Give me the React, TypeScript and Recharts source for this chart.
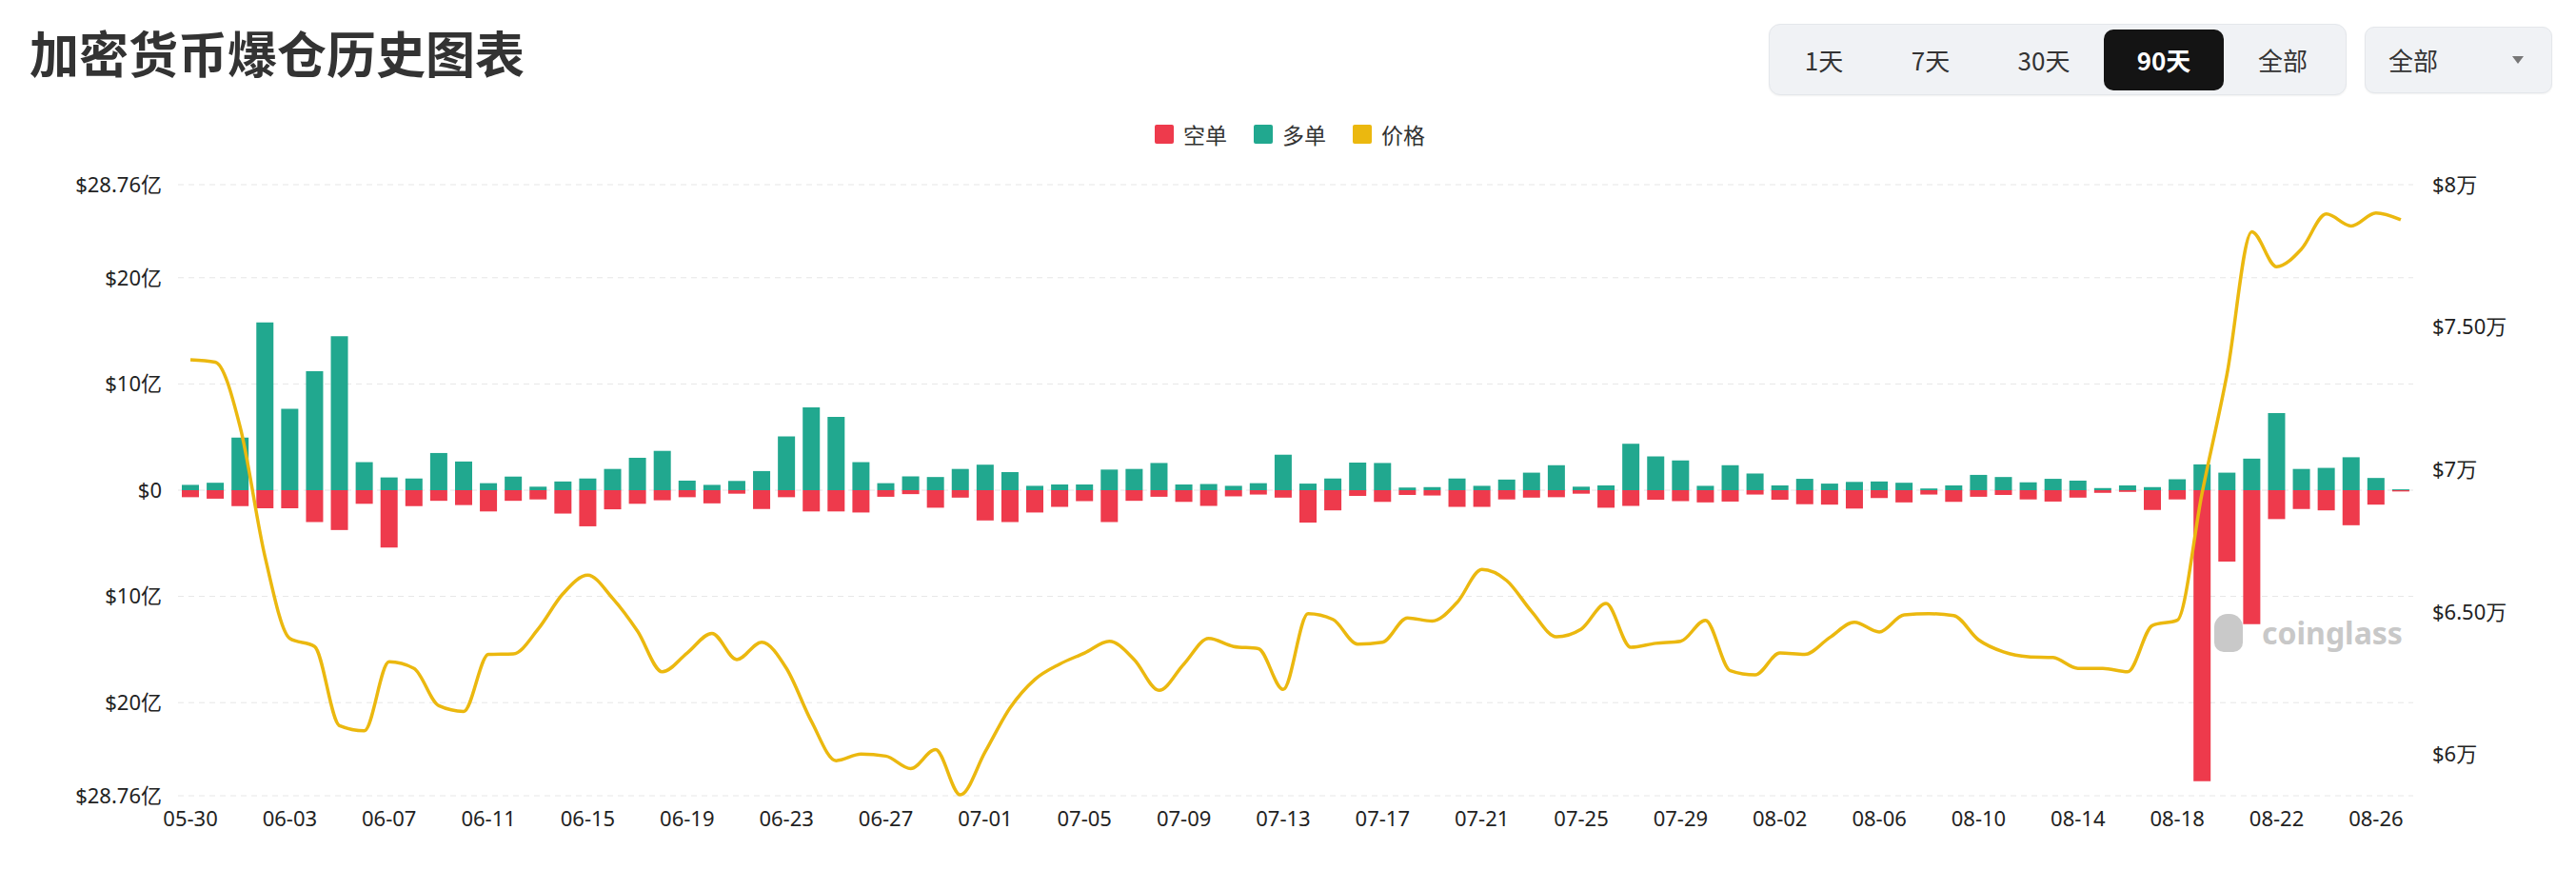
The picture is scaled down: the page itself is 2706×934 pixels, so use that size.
import {
  Bar,
  CartesianGrid,
  ComposedChart,
  Line,
  XAxis,
  YAxis,
} from "recharts";

const dates = [
  "05-30", "05-31", "06-01", "06-02", "06-03", "06-04", "06-05", "06-06", "06-07", "06-08",
  "06-09", "06-10", "06-11", "06-12", "06-13", "06-14", "06-15", "06-16", "06-17", "06-18",
  "06-19", "06-20", "06-21", "06-22", "06-23", "06-24", "06-25", "06-26", "06-27", "06-28",
  "06-29", "06-30", "07-01", "07-02", "07-03", "07-04", "07-05", "07-06", "07-07", "07-08",
  "07-09", "07-10", "07-11", "07-12", "07-13", "07-14", "07-15", "07-16", "07-17", "07-18",
  "07-19", "07-20", "07-21", "07-22", "07-23", "07-24", "07-25", "07-26", "07-27", "07-28",
  "07-29", "07-30", "07-31", "08-01", "08-02", "08-03", "08-04", "08-05", "08-06", "08-07",
  "08-08", "08-09", "08-10", "08-11", "08-12", "08-13", "08-14", "08-15", "08-16", "08-17",
  "08-18", "08-19", "08-20", "08-21", "08-22", "08-23", "08-24", "08-25", "08-26", "08-27",
];

// 多单 liquidations, in 亿 USD
const longLiq = [
  0.5, 0.7, 4.95, 15.8, 7.67, 11.2, 14.5, 2.64, 1.2, 1.1,
  3.5, 2.7, 0.66, 1.28, 0.33, 0.82, 1.1, 2.0, 3.05, 3.7,
  0.9, 0.5, 0.87, 1.8, 5.07, 7.8, 6.9, 2.64, 0.66, 1.3,
  1.24, 2.0, 2.4, 1.7, 0.41, 0.54, 0.54, 1.94, 2.0, 2.56,
  0.54, 0.58, 0.41, 0.66, 3.34, 0.62, 1.1, 2.6, 2.56, 0.25,
  0.29, 1.1, 0.41, 1.0, 1.65, 2.35, 0.33, 0.45, 4.37, 3.18,
  2.8, 0.41, 2.35, 1.57, 0.45, 1.07, 0.62, 0.78, 0.82, 0.7,
  0.16, 0.45, 1.44, 1.24, 0.74, 1.07, 0.9, 0.2, 0.45, 0.29,
  1.03, 2.43, 1.65, 2.97, 7.26, 2.0, 2.1, 3.1, 1.15, 0.08,
];

// 空单 liquidations, in 亿 USD (drawn below zero)
const shortLiq = [
  0.66, 0.8, 1.5, 1.7, 1.7, 3.0, 3.75, 1.28, 5.4, 1.5,
  1.0, 1.4, 2.0, 1.0, 0.87, 2.2, 3.4, 1.8, 1.28, 0.95,
  0.66, 1.24, 0.33, 1.77, 0.66, 2.0, 2.0, 2.1, 0.62, 0.37,
  1.65, 0.7, 2.85, 3.0, 2.1, 1.57, 1.03, 3.0, 1.0, 0.62,
  1.1, 1.48, 0.58, 0.41, 0.7, 3.05, 1.9, 0.54, 1.1, 0.45,
  0.5, 1.57, 1.57, 0.87, 0.7, 0.66, 0.33, 1.65, 1.48, 0.9,
  1.03, 1.15, 1.07, 0.41, 0.9, 1.32, 1.36, 1.73, 0.74, 1.15,
  0.41, 1.1, 0.62, 0.45, 0.87, 1.07, 0.7, 0.25, 0.16, 1.86,
  0.87, 27.4, 6.72, 12.6, 2.72, 1.77, 1.9, 3.3, 1.36, 0.12,
];

// 价格, USD
const price = [
  73850, 73770, 71500, 66950, 64070, 63790, 61010, 60830, 63250, 63020,
  61710, 61510, 63510, 63530, 64400, 65640, 66290, 65480, 64330, 62900,
  63560, 64250, 63330, 63940, 63020, 61170, 59780, 60010, 59940, 59500,
  60170, 58580, 60090, 61630, 62630, 63170, 63560, 63970, 63330, 62250,
  63170, 64070, 63790, 63710, 62280, 64940, 64740, 63870, 63940, 64790,
  64680, 65330, 66490, 66100, 65020, 64130, 64400, 65300, 63760, 63900,
  63970, 64710, 62940, 62790, 63560, 63510, 64100, 64640, 64300, 64900,
  64940, 64870, 64020, 63600, 63430, 63400, 63020, 63020, 62900, 64530,
  64710, 69180, 73340, 78350, 77120, 77740, 78970, 78550, 79010, 78770,
];

const leftTicks = [-28.76, -20, -10, 0, 10, 20, 28.76];
const rightTicks = [60000, 65000, 70000, 75000, 80000];
const ranges = ["1天", "7天", "30天", "90天", "全部"];

const data = dates.map((d, i) => ({
  date: d,
  long: longLiq[i],
  short: -shortLiq[i],
  price: price[i],
}));

const RED = "#EE3A4C";
const GREEN = "#21A88F";
const YELLOW = "#EBB80F";
const FONT = "'Noto Sans', 'Noto Sans CJK SC', sans-serif";
const CJK = "'Noto Sans CJK SC', 'Noto Sans', sans-serif";

const fmtLeft = (v: number) => (v === 0 ? "$0" : `$${Math.abs(v)}亿`);
const fmtRight = (v: number) => {
  const w = v / 10000;
  return `$${Number.isInteger(w) ? w : w.toFixed(2)}万`;
};

const legendItems = [
  { label: "空单", color: RED, x: 1213 },
  { label: "多单", color: GREEN, x: 1317 },
  { label: "价格", color: YELLOW, x: 1421 },
];
const rangeCenters = [1916, 2028, 2147, 2273, 2398];

export default function App() {
  const tick = { fill: "#222", fontSize: 22, fontFamily: FONT };
  return (
    <div
      style={{
        position: "fixed",
        left: 0,
        top: 0,
        width: 2706,
        height: 934,
        background: "#fff",
        fontFamily: CJK,
        overflow: "hidden",
      }}
    >
      <div
        style={{
          position: "absolute",
          left: 31,
          top: 29,
          fontSize: 52,
          lineHeight: "52px",
          fontWeight: 700,
          color: "#333",
          whiteSpace: "nowrap",
        }}
      >
        加密货币爆仓历史图表
      </div>

      {/* range switcher */}
      <div
        style={{
          position: "absolute",
          left: 1858,
          top: 25,
          width: 607,
          height: 75,
          boxSizing: "border-box",
          background: "#f0f2f5",
          border: "1px solid #e4e7eb",
          borderRadius: 12,
          boxShadow: "0 1px 2px rgba(0,0,0,0.06)",
        }}
      />
      <div
        style={{
          position: "absolute",
          left: 2210,
          top: 31,
          width: 126,
          height: 64,
          background: "#141414",
          borderRadius: 10,
        }}
      />
      {ranges.map((r, i) => (
        <div
          key={r}
          style={{
            position: "absolute",
            left: rangeCenters[i] - 60,
            width: 120,
            top: 31,
            height: 64,
            lineHeight: "64px",
            textAlign: "center",
            fontSize: 26,
            color: r === "90天" ? "#fff" : "#333",
            fontWeight: r === "90天" ? 700 : 400,
          }}
        >
          {r}
        </div>
      ))}

      {/* dropdown */}
      <div
        style={{
          position: "absolute",
          left: 2484,
          top: 28,
          width: 197,
          height: 70,
          boxSizing: "border-box",
          background: "#f0f2f5",
          border: "1px solid #e4e7eb",
          borderRadius: 10,
          boxShadow: "0 1px 2px rgba(0,0,0,0.06)",
        }}
      />
      <div
        style={{
          position: "absolute",
          left: 2509,
          top: 28,
          height: 70,
          lineHeight: "70px",
          fontSize: 26,
          color: "#333",
        }}
      >
        全部
      </div>
      <div
        style={{
          position: "absolute",
          left: 2639,
          top: 59,
          width: 0,
          height: 0,
          borderLeft: "6px solid transparent",
          borderRight: "6px solid transparent",
          borderTop: "8px solid #777",
        }}
      />

      {/* legend */}
      {legendItems.map((it) => (
        <div key={it.label}>
          <div
            style={{
              position: "absolute",
              left: it.x,
              top: 131,
              width: 20,
              height: 20,
              borderRadius: 2,
              background: it.color,
            }}
          />
          <div
            style={{
              position: "absolute",
              left: it.x + 30,
              top: 126,
              lineHeight: "30px",
              fontSize: 23,
              color: "#333",
            }}
          >
            {it.label}
          </div>
        </div>
      ))}

      {/* watermark */}
      <div
        style={{
          position: "absolute",
          left: 2326,
          top: 645,
          width: 30,
          height: 40,
          borderRadius: "14px 14px 10px 10px",
          background: "#c9c9c9",
        }}
      />
      <div
        style={{
          position: "absolute",
          left: 2376,
          top: 644,
          fontSize: 32,
          lineHeight: "42px",
          fontWeight: 700,
          color: "#c8c8c8",
          fontFamily: "'Noto Sans', sans-serif",
        }}
      >
        coinglass
      </div>

      <div style={{ position: "absolute", left: 0, top: 0 }}>
        <ComposedChart
          width={2706}
          height={934}
          data={data}
          stackOffset="sign"
          margin={{ top: 194, right: 0, bottom: 38, left: 0 }}
        >
          <CartesianGrid
            yAxisId="left"
            vertical={false}
            stroke="#e6e6e6"
            strokeDasharray="6 5"
          />
          <XAxis
            dataKey="date"
            interval={3}
            axisLine={false}
            tickLine={false}
            tickSize={0}
            tickMargin={16}
            height={60}
            tick={tick}
          />
          <YAxis
            yAxisId="left"
            width={187}
            domain={[-28.76, 28.76]}
            ticks={leftTicks}
            tickFormatter={fmtLeft}
            axisLine={false}
            tickLine={false}
            tickSize={0}
            tickMargin={17}
            tick={tick}
          />
          <YAxis
            yAxisId="right"
            orientation="right"
            width={171}
            domain={[58550, 80000]}
            ticks={rightTicks}
            tickFormatter={fmtRight}
            axisLine={false}
            tickLine={false}
            tickSize={0}
            tickMargin={20}
            tick={{ ...tick, textAnchor: "start" }}
          />
          <Bar
            yAxisId="left"
            dataKey="long"
            stackId="liq"
            fill={GREEN}
            barSize={18}
            isAnimationActive={false}
          />
          <Bar
            yAxisId="left"
            dataKey="short"
            stackId="liq"
            fill={RED}
            barSize={18}
            isAnimationActive={false}
          />
          <Line
            yAxisId="right"
            type="monotone"
            dataKey="price"
            stroke={YELLOW}
            strokeWidth={3.5}
            dot={false}
            isAnimationActive={false}
          />
        </ComposedChart>
      </div>
    </div>
  );
}
